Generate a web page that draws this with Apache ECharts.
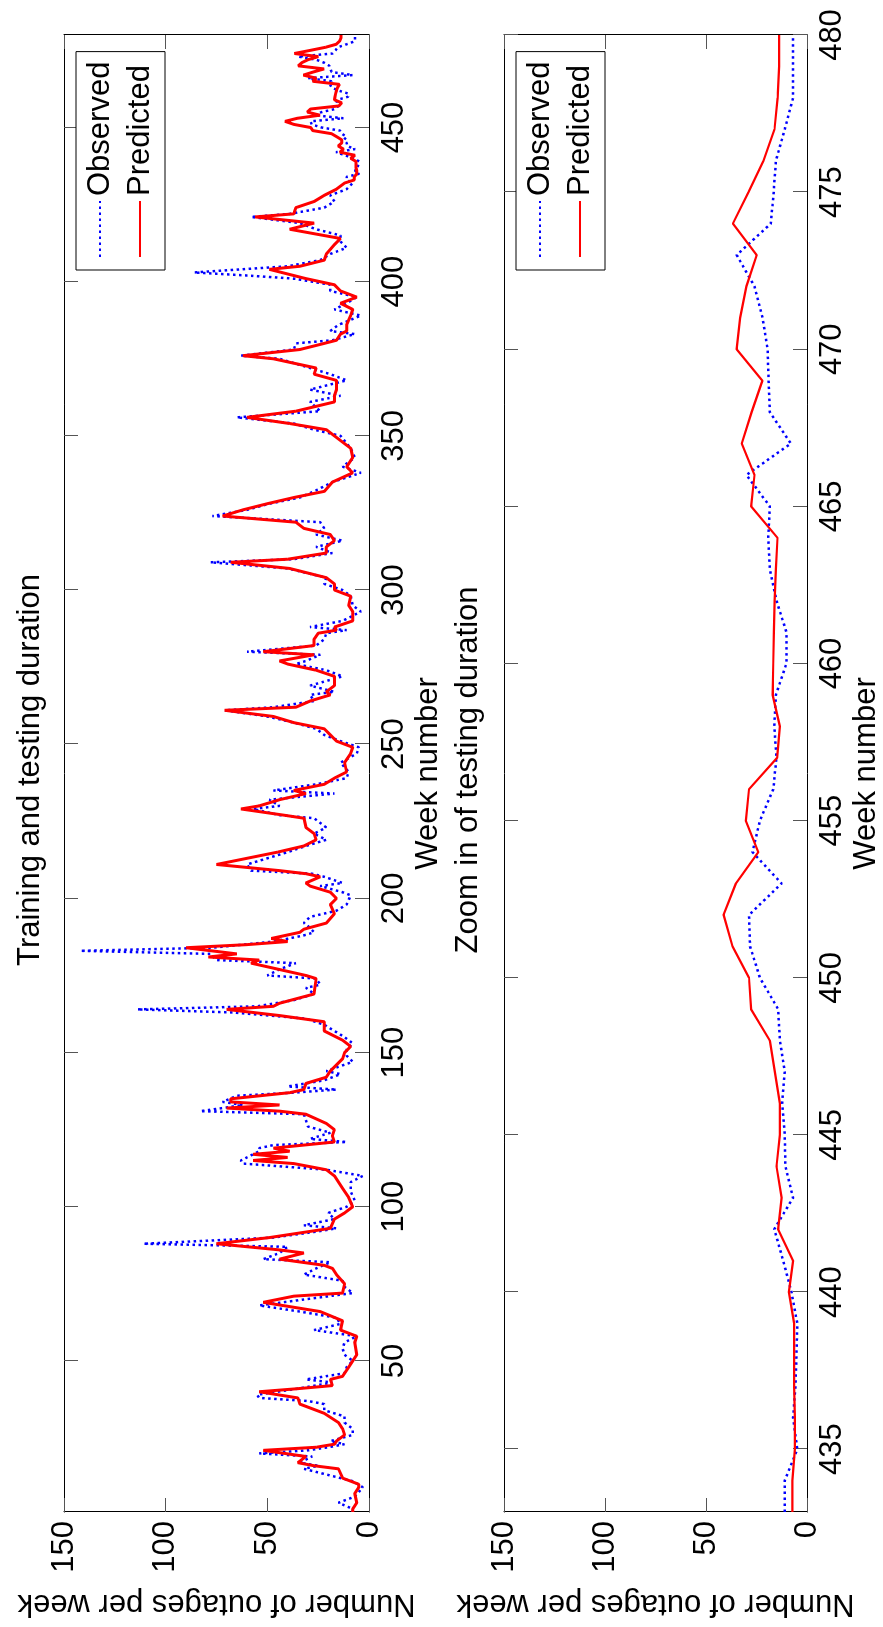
<!DOCTYPE html>
<html>
<head>
<meta charset="utf-8">
<title>Outages per week</title>
<script src="https://cdn.jsdelivr.net/npm/echarts@6/dist/echarts.min.js"></script>
<style>
  html, body { margin: 0; padding: 0; background: #fff; overflow: hidden; }
  body { width: 883px; height: 1627px; position: relative; }
  /* figure is laid out landscape, then turned a quarter turn like the source */
  #chart { position: absolute; left: -372px; top: 372px; width: 1627px; height: 883px; transform: rotate(-90deg); }
</style>
</head>
<body>
<div id="chart"></div>
<script>
// observed / predicted outages, weeks 1-432
const obsTrain = [
  [1,8],[2,8],[4,15],[6,7],[9,3],[11,8],[12,14],[15,32],[16,25],[17,34],[19,28],[20,54],[21,30],[22,20],[23,12],[24,19],[26,8],[28,8],[30,12],[32,12],[34,22],[36,22],[37,30],[38,54],[39,55],[41,35],[43,18],[44,31],[46,12],[48,11],[50,8],[52,12],[54,13],[56,12],[58,6],[60,27],[62,14],[64,16],[66,34],[68,54],[70,31],[72,8],[74,12],[76,13],[78,32],[80,26],[82,19],[83,52],[85,44],[87,40],[88,111],[90,47],[92,25],[93,16],[94,32],[96,17],[98,20],[100,11],[102,7],[105,9],[108,9],[110,3],[112,21],[114,62],[115,63],[116,60],[118,54],[119,54],[120,47],[121,11],[122,29],[124,19],[126,30],[128,31],[130,32],[131,83],[132,72],[133,62],[134,72],[136,65],[137,37],[138,16],[139,40],[141,22],[143,14],[144,21],[147,8],[149,11],[151,11],[153,8],[155,12],[157,17],[159,22],[161,31],[163,67],[164,114],[165,55],[167,37],[169,27],[171,31],[172,24],[174,26],[175,50],[177,44],[179,36],[180,75],[182,78],[183,142],[184,77],[186,47],[188,32],[189,27],[191,30],[192,32],[194,29],[196,16],[198,11],[201,9],[202,13],[204,24],[205,13],[207,22],[208,28],[209,58],[211,60],[213,50],[215,40],[217,31],[219,21],[221,27],[223,21],[226,27],[227,44],[229,57],[230,44],[232,49],[234,17],[235,47],[237,26],[239,11],[241,10],[244,14],[247,6],[249,5],[251,14],[253,22],[255,26],[257,37],[259,50],[261,71],[262,47],[264,27],[266,29],[267,17],[269,29],[272,13],[274,21],[276,36],[277,31],[279,24],[280,60],[282,26],[284,22],[286,21],[287,11],[288,29],[290,13],[293,4],[295,8],[298,9],[300,13],[302,22],[304,21],[307,40],[309,78],[310,37],[312,18],[314,26],[316,13],[318,26],[320,22],[322,24],[324,77],[326,60],[328,49],[330,34],[332,27],[335,18],[338,4],[340,13],[343,7],[346,9],[350,14],[352,27],[354,37],[356,65],[358,24],[361,29],[363,14],[365,29],[368,11],[370,19],[372,29],[375,44],[376,63],[378,37],[380,36],[381,18],[383,7],[384,19],[386,15],[389,4],[391,17],[393,11],[395,6],[397,19],[399,19],[401,37],[402,60],[403,86],[405,40],[407,24],[409,19],[411,11],[413,14],[415,14],[417,26],[419,34],[421,58],[422,39],[424,22],[426,17],[428,19],[430,11],[432,8]
];
const predTrain = [
  [1,8],[2,8],[4,6],[7,7],[9,5],[10,5],[12,13],[15,15],[16,27],[17,35],[19,31],[21,52],[22,26],[23,17],[24,16],[26,12],[28,13],[30,15],[33,22],[36,34],[38,35],[40,54],[41,35],[42,18],[44,19],[45,13],[48,10],[50,8],[52,6],[56,7],[58,6],[60,14],[63,13],[66,24],[69,52],[71,37],[72,13],[75,12],[78,16],[80,18],[81,22],[83,44],[85,32],[86,44],[88,75],[90,49],[93,19],[96,17],[98,12],[100,8],[103,10],[106,13],[110,17],[112,21],[114,37],[115,57],[116,40],[117,57],[118,39],[119,47],[121,17],[123,18],[125,17],[127,21],[130,31],[131,44],[132,70],[133,44],[134,68],[135,68],[137,39],[138,32],[140,31],[142,21],[144,19],[148,13],[150,12],[152,9],[154,13],[157,22],[160,22],[162,44],[164,70],[165,47],[166,44],[169,27],[174,26],[175,31],[179,58],[180,54],[181,79],[182,65],[184,90],[185,60],[186,40],[187,48],[189,34],[190,32],[192,21],[195,17],[198,19],[200,16],[202,19],[204,29],[205,31],[207,24],[208,31],[209,44],[211,75],[213,60],[215,45],[217,32],[219,26],[221,27],[223,31],[226,32],[227,42],[229,63],[230,54],[232,44],[234,31],[235,37],[237,22],[239,17],[241,11],[244,12],[247,9],[249,8],[251,16],[253,19],[255,22],[257,37],[259,47],[261,71],[262,36],[264,29],[266,19],[267,21],[269,17],[272,17],[274,26],[276,40],[277,44],[279,27],[280,52],[282,27],[284,27],[286,25],[287,16],[288,17],[290,8],[293,8],[295,10],[298,9],[300,17],[302,17],[304,21],[307,39],[309,68],[310,40],[312,21],[314,21],[316,17],[318,19],[320,32],[322,36],[324,72],[326,62],[328,50],[330,37],[332,22],[335,18],[338,8],[340,11],[343,8],[346,9],[350,17],[352,21],[354,39],[356,60],[358,36],[361,17],[363,17],[365,16],[368,16],[370,27],[372,26],[375,47],[376,62],[378,34],[380,22],[381,16],[383,14],[384,11],[386,11],[389,9],[391,8],[393,14],[395,6],[397,14],[399,17],[401,31],[404,49],[405,34],[407,22],[409,21],[412,17],[414,14],[417,39],[419,27],[421,56],[422,37],[424,36],[426,27],[428,22],[430,16],[432,12]
];

// testing weeks, shown in both panels
const testWeeks = [433,434,435,436,437,438,439,440,441,442,443,444,445,446,447,448,449,450,451,452,453,454,455,456,457,458,459,460,461,462,463,464,465,466,467,468,469,470,471,472,473,474,475,476,477,478,479,480];
const obsTest = [11,11,4.8,6.9,5.7,5.2,4.8,7.7,11.8,16.2,6.9,10.7,11,12.3,11,13.4,14.3,23.3,28.2,28.7,12.6,27,23.3,16.7,15.1,16.2,15.4,10.2,10.2,15.1,18.4,19.2,18.4,30,8,18.4,19,19.5,22,26,34.8,17.9,16.5,15.4,11,6.9,6.9,6.9];
const predTest = [7.2,7.2,6,6,6.4,6.4,6.4,9,6.9,14.3,12.6,15.1,13.4,13.4,15.9,18.4,27.7,28.7,36.9,41.3,35.2,24.1,30.3,28.7,14.8,13.4,17,16.7,16.4,16,15.4,14.6,27.7,26,32.3,27.4,22.1,34.8,33.1,30,24.9,36.7,29,21.5,16.1,14.5,13.8,13.8];

const trainTicks = [50,100,150,200,250,300,350,400,450];
const testTicks = [435,440,445,450,455,460,465,470,475,480];

const FONT = '"Liberation Sans", Arial, Helvetica, sans-serif';
const BLUE = '#0000ff';
const RED = '#ff0000';

const testPairs = (vals) => testWeeks.map((w, i) => [w, vals[i]]);

const frameLine = { show: true, onZero: false, lineStyle: { color: '#000', width: 1 } };
const innerTick = (vals) => {
  const t = { show: true, inside: true, length: 14, lineStyle: { color: '#555', width: 1 } };
  if (vals) t.customValues = vals;
  return t;
};
const labelStyle = { fontSize: 31, color: '#000', fontFamily: FONT };

const weekAxes = (grid, min, ticks) => [
  {
    type: 'value', gridIndex: grid, min: min, max: 480, position: 'bottom',
    axisLine: frameLine,
    axisTick: innerTick(ticks),
    axisLabel: Object.assign({ customValues: ticks, margin: 10 }, labelStyle),
    splitLine: { show: false },
    name: 'Week number', nameLocation: 'middle', nameGap: 44,
    nameTextStyle: labelStyle,
  },
  {
    type: 'value', gridIndex: grid, min: min, max: 480, position: 'top',
    axisLine: frameLine,
    axisTick: innerTick(ticks),
    axisLabel: { show: false },
    splitLine: { show: false },
  },
];

const countAxes = (grid) => [
  {
    type: 'value', gridIndex: grid, min: 0, max: 150, interval: 50, position: 'left',
    axisLine: frameLine,
    axisTick: innerTick(),
    axisLabel: Object.assign({ margin: 9 }, labelStyle),
    splitLine: { show: false },
    name: 'Number of outages per week', nameLocation: 'middle', nameGap: 76,
    nameTextStyle: labelStyle,
  },
  {
    type: 'value', gridIndex: grid, min: 0, max: 150, interval: 50, position: 'right',
    axisLine: frameLine,
    axisTick: innerTick(),
    axisLabel: { show: false },
    splitLine: { show: false },
  },
];

// legend keeps only the line sample: the marker dot is made invisible
const legendBox = (top) => ({
  data: ['Observed', 'Predicted'],
  orient: 'vertical',
  left: 1357, top: top,
  padding: [6, 10, 7, 12],
  itemWidth: 56, itemHeight: 14, itemGap: 4,
  itemStyle: { opacity: 0 },
  backgroundColor: '#fff',
  borderColor: '#000', borderWidth: 1, borderRadius: 0,
  selectedMode: false,
  textStyle: { fontSize: 31, color: '#000', fontFamily: FONT, lineHeight: 36 },
});

const lineSeries = (name, data, xi, yi, dotted, width) => ({
  name: name, type: 'line', xAxisIndex: xi, yAxisIndex: yi,
  data: data, symbol: 'none', animation: false, z: dotted ? 2 : 3,
  itemStyle: { color: dotted ? BLUE : RED },
  lineStyle: dotted
    ? { color: BLUE, width: width, type: [2.5, 3.5], cap: 'butt' }
    : { color: RED, width: width },
});

const chart = echarts.init(document.getElementById('chart'));
chart.setOption({
  animation: false,
  backgroundColor: '#fff',
  textStyle: { fontFamily: FONT },
  title: [
    { text: 'Training and testing duration', left: 852, top: 10, textAlign: 'center',
      textStyle: { fontSize: 31, fontWeight: 'normal', color: '#000', fontFamily: FONT } },
    { text: 'Zoom in of testing duration', left: 852, top: 448, textAlign: 'center',
      textStyle: { fontSize: 31, fontWeight: 'normal', color: '#000', fontFamily: FONT } },
  ],
  legend: [legendBox(76), legendBox(516)],
  grid: [
    { left: 113, right: 35, top: 64, height: 305 },
    { left: 113, right: 35, top: 504, height: 305 },
  ],
  xAxis: weekAxes(0, 1, trainTicks).concat(weekAxes(1, 433, testTicks)),
  yAxis: countAxes(0).concat(countAxes(1)),
  series: [
    lineSeries('Observed', obsTrain.concat(testPairs(obsTest)), 0, 0, true, 2.5),
    lineSeries('Predicted', predTrain.concat(testPairs(predTest)), 0, 0, false, 3),
    lineSeries('Observed', testPairs(obsTest), 2, 2, true, 2.5),
    lineSeries('Predicted', testPairs(predTest), 2, 2, false, 2.2),
  ],
});
</script>
</body>
</html>
